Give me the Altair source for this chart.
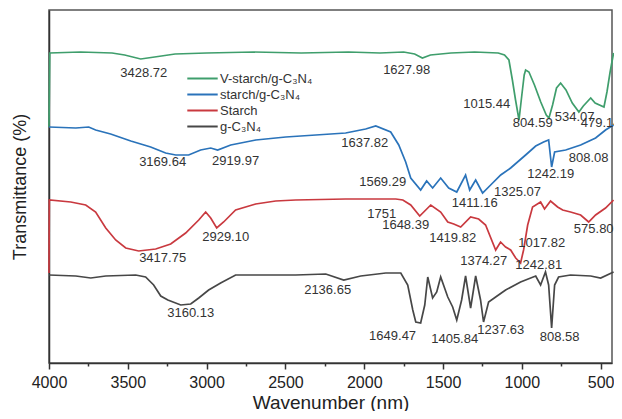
import altair as alt
import pandas as pd

FONT = "Liberation Sans"

series_names = ["V-starch/g-C₃N₄", "starch/g-C₃N₄", "Starch", "g-C₃N₄"]
series_colors = ["#3f9e6c", "#2a73ba", "#c9393f", "#474747"]

# V-starch/g-C3N4 (green)
green_wn = [4000, 3995, 3800, 3600, 3520, 3418, 3330, 3200, 3000, 2700, 2400, 2100, 1900, 1750, 1680,
            1631, 1580, 1450, 1300, 1150, 1110, 1082, 1060, 1040, 1018, 1000, 985, 976, 955, 920, 880,
            845, 828, 805, 780, 754, 720, 680, 638, 610, 563, 535, 479, 460, 440, 418]
green_t = [236, 310, 311, 310, 308, 304, 306, 309, 310, 311, 310, 311, 310, 311, 309,
           305, 308, 310, 311, 310, 308, 303, 283, 263, 243, 268, 288, 293, 291, 278, 261,
           248, 245, 258, 275, 280, 273, 260, 251, 257, 265, 260, 256, 271, 291, 310]

# starch/g-C3N4 (blue)
blue_wn = [4000, 3830, 3748, 3704, 3609, 3481, 3355, 3260, 3196, 3114, 3038, 2974, 2930, 2847, 2688,
           2498, 2307, 2118, 1991, 1927, 1832, 1781, 1737, 1705, 1642, 1604, 1566, 1515, 1464, 1413,
           1357, 1331, 1293, 1249, 1198, 1134, 1071, 976, 912, 862, 830, 811, 792, 722, 627, 532, 469, 418]
blue_t = [236, 235, 236, 233, 229, 222, 216, 210, 208, 208, 213, 215, 213, 218, 223,
          226, 228, 230, 234, 237, 231, 218, 201, 185, 173, 182, 175, 185, 175, 171,
          188, 173, 183, 170, 178, 188, 195, 208, 217, 221, 223, 196, 211, 213, 218, 225, 233, 238]

# Starch (red)
red_wn = [4000, 3998, 3862, 3767, 3704, 3640, 3577, 3513, 3431, 3323, 3228, 3133, 3050, 3006, 2974,
          2936, 2892, 2816, 2689, 2562, 2435, 2118, 1800, 1755, 1705, 1648, 1578, 1515, 1470, 1432,
          1388, 1325, 1274, 1230, 1166, 1135, 1103, 1071, 1039, 1008, 989, 963, 932, 881, 856,
          818, 773, 741, 691, 627, 576, 532, 469, 418]
red_t = [90, 163, 161, 158, 151, 135, 123, 115, 112, 114, 119, 130, 143, 151, 145,
         135, 141, 153, 159, 162, 163, 164, 164, 163, 158, 147, 158, 151, 141, 139,
         136, 146, 144, 138, 113, 121, 116, 113, 105, 100, 113, 138, 156, 161, 154,
         162, 156, 153, 151, 148, 141, 148, 155, 163]

# g-C3N4 (dark grey)
gray_wn = [4000, 3830, 3735, 3640, 3450, 3387, 3336, 3291, 3246, 3164, 3101, 3050, 2987, 2911, 2816,
           2626, 2435, 2244, 2130, 2022, 1863, 1768, 1724, 1692, 1673, 1642, 1616, 1597, 1566, 1540,
           1515, 1470, 1439, 1413, 1382, 1357, 1325, 1293, 1262, 1243, 1211, 1166, 1103, 1008, 912,
           881, 850, 830, 811, 792, 767, 691, 563, 500, 418]
gray_t = [88, 87, 85, 87, 88, 86, 78, 67, 63, 58, 59, 65, 73, 80, 88,
          88, 88, 89, 83, 87, 90, 90, 78, 53, 41, 40, 58, 86, 65, 71,
          86, 66, 56, 43, 63, 87, 55, 87, 63, 41, 61, 66, 73, 81, 87,
          78, 91, 78, 35, 78, 86, 88, 87, 85, 91]

# Peak annotations
ann_text = ["3428.72", "1627.98", "1015.44", "804.59", "534.07", "479.14",
            "3169.64", "2919.97", "1637.82", "1569.29", "1411.16", "1325.07", "1242.19", "808.08",
            "2929.10", "3417.75", "1751", "1648.39", "1419.82", "1017.82", "575.80", "1374.27", "1242.81",
            "2136.65", "3160.13", "1649.47", "1405.84", "1237.63", "808.58"]
ann_wn = [3399, 1731, 1223, 931, 665, 500,
          3279, 2816, 1997, 1883, 1299, 1027, 817, 576,
          2879, 3279, 1889, 1737, 1439, 874, 544, 1242, 893,
          2232, 3101, 1820, 1426, 1134, 760]
ann_t = [290, 293, 259, 240, 246, 240,
         201, 202, 220, 181, 160, 171, 189, 205,
         126, 105, 149, 138, 125, 120, 134, 102, 98,
         73, 50, 27, 24, 33, 26]

x_ticks = [4000, 3750, 3500, 3250, 3000, 2750, 2500, 2250, 2000, 1750, 1500, 1250, 1000, 750, 500]

rows = []
for name, wns, ts in zip(series_names, [green_wn, blue_wn, red_wn, gray_wn],
                         [green_t, blue_t, red_t, gray_t]):
    for i, (w, t) in enumerate(zip(wns, ts)):
        rows.append({"series": name, "wn": w, "t": t, "order": i})
df = pd.DataFrame(rows)
ann = pd.DataFrame({"label": ann_text, "wn": ann_wn, "t": ann_t})

xscale = alt.Scale(domain=[4000, 428], nice=False, zero=False)
yscale = alt.Scale(domain=[0, 353], nice=False, zero=False)

xaxis = alt.Axis(
    values=x_ticks,
    labelExpr="datum.value % 500 === 0 ? format(datum.value, 'd') : ''",
    labelOverlap=False,
    labelFlush=False,
    tickSize={"condition": {"test": "datum.value % 500 !== 0", "value": 3}, "value": 6},
    tickColor="#333",
    tickWidth=1.5,
    domainColor="#333",
    domainWidth=1.5,
    labelFontSize=16,
    labelFont=FONT,
    labelColor="#222",
    labelPadding=5,
    title="Wavenumber (nm)",
    titleFontSize=19,
    titleFont=FONT,
    titleFontWeight="normal",
    titleColor="#222",
    titlePadding=3,
    grid=False,
)
yaxis = alt.Axis(
    labels=False,
    ticks=False,
    domainColor="#333",
    domainWidth=1.5,
    title="Transmittance (%)",
    titleFontSize=18,
    titleFont=FONT,
    titleFontWeight="normal",
    titleColor="#222",
    titlePadding=20,
    grid=False,
)

lines = alt.Chart(df).mark_line(strokeWidth=1.7).encode(
    x=alt.X("wn:Q", scale=xscale, axis=xaxis),
    y=alt.Y("t:Q", scale=yscale, axis=yaxis),
    color=alt.Color(
        "series:N",
        scale=alt.Scale(domain=series_names, range=series_colors),
        legend=alt.Legend(
            title=None,
            orient="none",
            legendX=147,
            legendY=62,
            symbolType="M-3.8,0H3.8",
            symbolSize=64,
            symbolStrokeWidth=2,
            labelFontSize=13,
            labelFont=FONT,
            labelColor="#333",
            labelOffset=11,
            rowPadding=2,
        ),
        sort=series_names,
    ),
    order="order:Q",
    detail="series:N",
)

texts = alt.Chart(ann).mark_text(fontSize=13, font=FONT, color="#333", align="center", baseline="middle").encode(
    x=alt.X("wn:Q", scale=xscale),
    y=alt.Y("t:Q", scale=yscale),
    text="label:N",
)

chart = alt.layer(lines, texts).properties(
    width=563,
    height=353,
    autosize=alt.AutoSizeParams(type="none"),
    padding={"left": 41, "top": 2, "right": 2, "bottom": 48},
).configure_view(stroke="#555", strokeWidth=1.5)

chart.save("out.html", embed_options={"renderer": "svg", "actions": False})
